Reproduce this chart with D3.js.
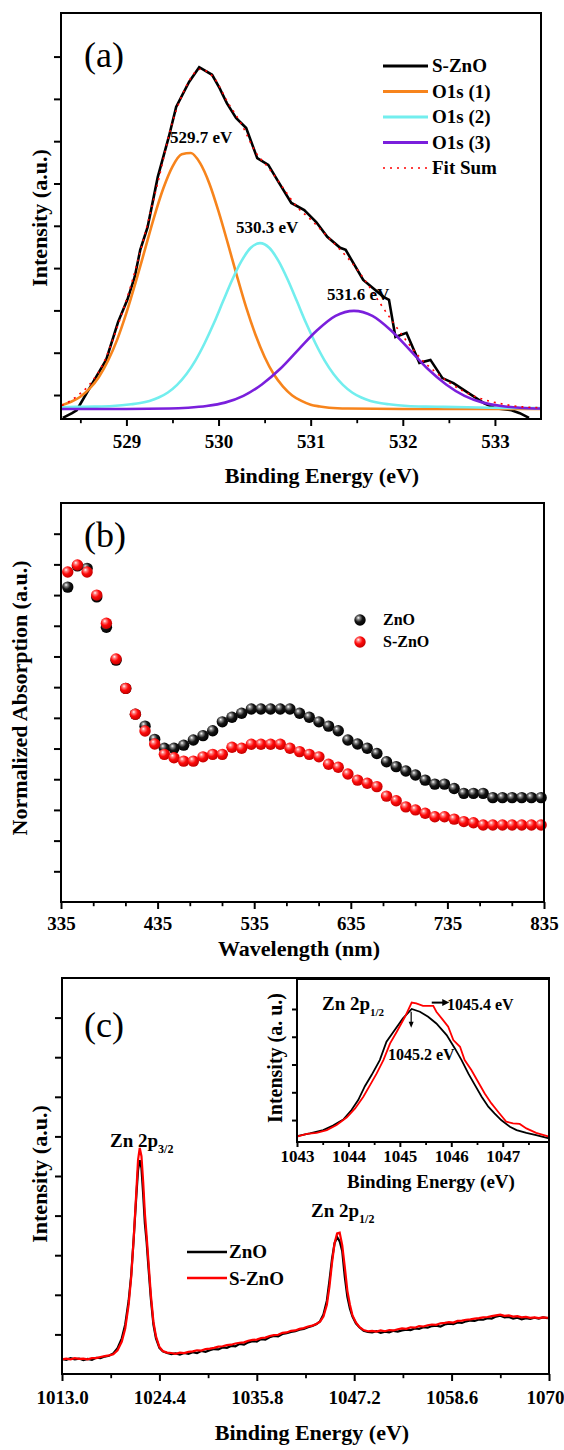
<!DOCTYPE html>
<html>
<head>
<meta charset="utf-8">
<script src="https://cdn.jsdelivr.net/npm/d3@7"></script>
<style>
body { margin: 0; background: #fff; }
svg text { font-family: "Liberation Serif", "Times New Roman", serif; }
</style>
</head>
<body>
<svg id="fig" width="564" height="1450"></svg>
<script>
// ---------- panel (a): O1s XPS fit ----------
var aTicks = [529, 530, 531, 532, 533];
var aMinor = [528.5, 529.5, 530.5, 531.5, 532.5];
var aYTicks = [0, 1, 2, 3, 4, 5, 6, 7, 8];

var sznoE = [528.31,528.41,528.46,528.64,528.78,528.91,529.01,529.09,529.15,529.23,529.34,529.46,529.54,529.68,529.79,529.93,530.01,530.09,530.19,530.30,530.42,530.54,530.65,530.79,530.93,531.06,531.18,531.32,531.38,531.57,531.79,531.85,531.92,532.04,532.18,532.30,532.43,532.55,532.71,532.88,533.00,533.18,533.27,533.37];
var sznoI = [-0.54,-0.43,-0.36,0.31,0.83,1.73,2.25,2.79,3.43,3.97,5.15,6.10,6.81,7.40,7.75,7.57,7.26,6.90,6.55,6.31,5.60,5.44,5.04,4.54,4.37,4.09,3.74,3.48,3.43,2.72,2.32,2.25,1.37,1.47,0.76,0.83,0.40,0.28,0.05,-0.19,-0.31,-0.36,-0.43,-0.54];

var fitE = [528.30,528.45,528.60,528.75,528.90,529.05,529.20,529.35,529.50,529.65,529.80,529.95,530.10,530.25,530.40,530.55,530.70,530.85,531.00,531.15,531.30,531.45,531.60,531.75,531.90,532.05,532.20,532.35,532.50,532.65,532.80,532.95,533.10,533.30,533.50];
var fitI = [-0.25,-0.05,0.25,0.75,1.60,2.60,3.80,5.10,6.45,7.30,7.70,7.50,6.92,6.40,5.75,5.35,4.90,4.45,4.15,3.82,3.48,3.12,2.68,2.18,1.70,1.25,0.85,0.55,0.30,0.10,-0.05,-0.15,-0.22,-0.28,-0.30];

var o1E = [528.3,528.4,528.5,528.6,528.7,528.8,528.9,529.0,529.1,529.2,529.3,529.4,529.5,529.6,529.7,529.8,529.9,530.0,530.1,530.2,530.3,530.4,530.5,530.6,530.7,530.8,530.9,531.0,531.1,531.2,531.4,532.0,533.5];
var o1I = [-0.24,-0.16,-0.04,0.15,0.42,0.81,1.31,1.94,2.66,3.43,4.20,4.88,5.40,5.69,5.72,5.48,5.00,4.34,3.59,2.81,2.07,1.43,0.90,0.49,0.20,-0.01,-0.14,-0.23,-0.27,-0.30,-0.32,-0.33,-0.33];

var o2E = [528.3,528.45,528.65,528.85,529.05,529.15,529.25,529.35,529.45,529.55,529.65,529.75,529.85,529.95,530.05,530.15,530.25,530.35,530.45,530.55,530.65,530.75,530.85,530.95,531.05,531.15,531.25,531.35,531.45,531.55,531.65,531.75,531.85,532.05,532.25,532.45,532.95,533.5];
var o2I = [-0.29,-0.28,-0.275,-0.26,-0.22,-0.19,-0.14,-0.06,0.06,0.24,0.49,0.82,1.23,1.70,2.22,2.73,3.17,3.48,3.59,3.48,3.17,2.73,2.22,1.70,1.23,0.82,0.49,0.24,0.06,-0.06,-0.14,-0.19,-0.22,-0.26,-0.275,-0.28,-0.30,-0.31];

var o3E = [528.3,529.0,529.47,529.67,529.87,530.07,530.27,530.47,530.67,530.87,531.07,531.27,531.47,531.67,531.87,532.07,532.27,532.47,532.67,532.87,533.07,533.27,533.5];
var o3I = [-0.33,-0.33,-0.32,-0.30,-0.26,-0.18,-0.02,0.25,0.62,1.08,1.53,1.87,1.99,1.87,1.53,1.08,0.62,0.25,-0.02,-0.18,-0.26,-0.30,-0.32];

var aLegend = ["S-ZnO", "O1s (1)", "O1s (2)", "O1s (3)", "Fit Sum"];
var aColors = ["#000000", "#f7841c", "#72eeee", "#7a1fdc", "#ff0000"];

// ---------- panel (b): absorption ----------
var bTicks = [335, 435, 535, 635, 735, 835];
var bMinor = [368.33, 401.67, 468.33, 501.67, 568.33, 601.67, 668.33, 701.67, 768.33, 801.67];
var bYTicks = [0.1,0.2,0.3,0.4,0.5,0.6,0.7,0.8,0.9,1.0,1.1,1.2];
var wavelength = [342,352,362,372,382,392,402,412,422,432,442,452,462,472,482,492,502,512,522,532,542,552,562,572,582,592,602,612,622,632,642,652,662,672,682,692,702,712,722,732,742,752,762,772,782,792,802,812,822,832];
var absZnO = [1.026,1.095,1.087,0.994,0.895,0.788,0.696,0.612,0.573,0.530,0.501,0.501,0.511,0.528,0.542,0.558,0.587,0.602,0.615,0.629,0.629,0.629,0.629,0.629,0.615,0.602,0.587,0.573,0.558,0.528,0.515,0.501,0.484,0.457,0.441,0.427,0.414,0.397,0.384,0.384,0.370,0.354,0.354,0.354,0.340,0.340,0.340,0.340,0.340,0.340];
var absSZnO = [1.075,1.098,1.075,1.000,0.908,0.792,0.696,0.612,0.557,0.515,0.481,0.470,0.459,0.459,0.473,0.481,0.481,0.504,0.501,0.514,0.514,0.514,0.514,0.501,0.490,0.481,0.473,0.449,0.439,0.417,0.397,0.387,0.376,0.345,0.330,0.310,0.300,0.289,0.278,0.278,0.270,0.262,0.258,0.251,0.251,0.251,0.251,0.251,0.251,0.251];

// ---------- panel (c): Zn 2p XPS ----------
var cTicks = [1013.0, 1024.4, 1035.8, 1047.2, 1058.6, 1070];
var cTickLabels = ["1013.0", "1024.4", "1035.8", "1047.2", "1058.6", "1070"];
var cMinor = [1018.7, 1030.1, 1041.5, 1052.9, 1064.3];
var cYTicks = [1,2,3,4,5,6,7,8,9];
var cE = [1013.0,1013.5,1014.0,1014.5,1015.0,1015.5,1016.0,1016.5,1017.0,1017.5,
  1018.0,1018.5,1019.0,1019.5,1020.0,1020.4,1020.8,1021.1,1021.4,1021.7,
  1021.9,1022.1,1022.3,1022.5,1022.7,1022.9,1023.1,1023.4,1023.7,1024.0,
  1024.4,1024.8,1025.3,1025.8,1026.3,1026.8,1027.3,1027.8,1028.3,1028.8,
  1029.3,1029.8,1030.3,1030.8,1031.3,1031.8,1032.3,1032.8,1033.3,1033.8,
  1034.3,1034.8,1035.3,1035.8,1036.3,1036.8,1037.3,1037.8,1038.3,1038.8,
  1039.3,1039.8,1040.3,1040.8,1041.3,1041.8,1042.3,1042.8,1043.2,1043.6,
  1044.0,1044.3,1044.6,1044.9,1045.2,1045.5,1045.8,1046.1,1046.4,1046.7,
  1047.0,1047.4,1047.8,1048.3,1048.8,1049.3,1049.8,1050.3,1050.8,1051.3,
  1051.8,1052.3,1052.8,1053.3,1053.8,1054.3,1054.8,1055.3,1055.8,1056.3,
  1056.8,1057.3,1057.8,1058.3,1058.8,1059.3,1059.8,1060.3,1060.8,1061.3,
  1061.8,1062.3,1062.8,1063.3,1063.8,1064.3,1064.8,1065.3,1065.8,1066.3,
  1066.8,1067.3,1067.8,1068.3,1068.8,1069.3,1069.8,1070.0];
var cZnO = [0.38,0.36,0.40,0.37,0.39,0.35,0.38,0.36,0.41,0.40,
  0.44,0.46,0.52,0.65,0.90,1.25,1.85,2.50,3.45,4.50,
  5.15,5.40,5.20,4.55,3.80,3.35,2.75,1.90,1.25,0.90,
  0.66,0.57,0.53,0.50,0.52,0.49,0.53,0.51,0.55,0.53,
  0.58,0.56,0.60,0.63,0.62,0.67,0.66,0.71,0.70,0.76,
  0.74,0.80,0.83,0.82,0.88,0.87,0.93,0.96,0.95,1.01,
  1.03,1.06,1.08,1.12,1.14,1.18,1.21,1.26,1.33,1.50,
  1.85,2.35,2.90,3.30,3.46,3.35,3.10,2.45,1.95,1.65,
  1.45,1.28,1.18,1.09,1.06,1.05,1.08,1.04,1.07,1.05,
  1.09,1.07,1.10,1.12,1.11,1.15,1.14,1.18,1.17,1.21,
  1.22,1.20,1.25,1.27,1.26,1.30,1.29,1.33,1.35,1.34,
  1.38,1.37,1.41,1.40,1.45,1.47,1.43,1.44,1.40,1.42,
  1.38,1.41,1.39,1.42,1.40,1.43,1.41,1.42];
var cSZnO = [0.37,0.39,0.37,0.40,0.38,0.39,0.37,0.40,0.40,0.43,
  0.45,0.47,0.50,0.60,0.82,1.15,1.75,2.45,3.45,4.60,
  5.40,5.71,5.50,4.85,4.05,3.50,2.90,2.00,1.32,0.95,
  0.68,0.58,0.54,0.53,0.51,0.54,0.53,0.56,0.57,0.60,
  0.59,0.63,0.64,0.66,0.69,0.70,0.73,0.74,0.77,0.79,
  0.80,0.84,0.86,0.87,0.91,0.92,0.96,0.98,0.99,1.04,
  1.05,1.09,1.10,1.14,1.16,1.20,1.22,1.27,1.32,1.45,
  1.75,2.20,2.80,3.30,3.55,3.57,3.25,2.70,2.10,1.75,
  1.48,1.30,1.19,1.11,1.08,1.09,1.07,1.10,1.08,1.11,
  1.10,1.13,1.15,1.14,1.18,1.17,1.21,1.20,1.23,1.25,
  1.24,1.28,1.29,1.31,1.30,1.34,1.35,1.37,1.38,1.40,
  1.41,1.43,1.44,1.46,1.48,1.50,1.47,1.48,1.45,1.46,
  1.43,1.44,1.42,1.43,1.41,1.43,1.42,1.42];

// inset of (c)
var iTicks = [1043, 1044, 1045, 1046, 1047];
var iMinor = [1043.5, 1044.5, 1045.5, 1046.5, 1047.5];
var iYTicks = [0, 1, 2, 3, 4];
var iZnoE = [1043.0,1043.25,1043.51,1043.70,1043.90,1044.06,1044.19,1044.32,1044.45,1044.61,1044.74,1044.90,1045.06,1045.23,1045.39,1045.55,1045.71,1045.91,1046.07,1046.20,1046.33,1046.46,1046.59,1046.72,1046.84,1046.97,1047.14,1047.27,1047.46,1047.65,1047.90];
var iZnoI = [-0.58,-0.48,-0.36,-0.20,0.02,0.36,0.72,1.22,1.62,2.16,2.82,3.24,3.66,4.00,3.90,3.72,3.48,3.06,2.58,2.16,1.68,1.26,0.84,0.48,0.24,0.00,-0.24,-0.36,-0.46,-0.54,-0.66];
var iSznoE = [1043.0,1043.19,1043.38,1043.58,1043.77,1043.97,1044.13,1044.29,1044.42,1044.55,1044.68,1044.81,1044.94,1045.10,1045.23,1045.32,1045.45,1045.65,1045.71,1045.84,1045.94,1046.04,1046.17,1046.26,1046.39,1046.52,1046.65,1046.78,1046.91,1047.07,1047.20,1047.33,1047.46,1047.65,1047.90];
var iSznoI = [-0.60,-0.50,-0.46,-0.36,-0.18,0.10,0.42,0.84,1.26,1.68,2.16,2.76,3.18,3.72,4.23,4.20,4.11,4.11,3.90,3.60,3.36,2.88,2.64,2.16,1.80,1.38,0.96,0.60,0.30,-0.06,-0.12,-0.14,-0.30,-0.46,-0.60];

var svg = d3.select("#fig");
svg.append("rect").attr("width", 564).attr("height", 1450).attr("fill", "#fff");

function zip(xs, ys) {
    return xs.map((x, i) => [x, ys[i]]);
}

function label(g, x, y, str, size, bold, anchor) {
    return g.append("text")
        .attr("x", x).attr("y", y)
        .attr("font-size", size)
        .attr("font-weight", bold ? "bold" : "normal")
        .attr("text-anchor", anchor || "start")
        .text(str);
}

function subLabel(g, x, y, main, sub, size, subSize) {
    var t = g.append("text").attr("x", x).attr("y", y)
        .attr("font-weight", "bold").attr("font-size", size);
    t.append("tspan").text(main);
    t.append("tspan").attr("dy", size * 0.3).attr("font-size", subSize).text(sub);
}

function yTitle(g, x, y, str, size) {
    g.append("text")
        .attr("transform", `translate(${x},${y}) rotate(-90)`)
        .attr("font-size", size).attr("font-weight", "bold")
        .attr("text-anchor", "middle").text(str);
}

function frame(g, x, y) {
    g.append("rect")
        .attr("x", x.range()[0]).attr("y", y.range()[1])
        .attr("width", x.range()[1] - x.range()[0])
        .attr("height", y.range()[0] - y.range()[1])
        .attr("fill", "none").attr("stroke", "#000").attr("stroke-width", 2);
}

// bottom axis with minor ticks, labels placed at labelY below the axis
function xAxis(g, x, y0, major, minor, fmt, labelY, fs, len) {
    var mn = g.append("g").attr("transform", `translate(0,${y0})`)
        .call(d3.axisBottom(x).tickValues(minor).tickSize(len * 0.6).tickFormat(""));
    mn.select(".domain").remove();
    mn.selectAll("line").attr("stroke-width", 1.8);
    var mj = g.append("g").attr("transform", `translate(0,${y0})`)
        .call(d3.axisBottom(x).tickValues(major).tickSize(len).tickFormat(fmt));
    mj.select(".domain").remove();
    mj.selectAll("line").attr("stroke-width", 2);
    mj.attr("font-family", null).attr("font-size", fs).attr("font-weight", "bold");
    mj.selectAll("text").attr("y", labelY).attr("dy", null).attr("fill", "#000");
    return mj;
}

function yAxis(g, y, x0, ticks, len) {
    var ax = g.append("g").attr("transform", `translate(${x0},0)`)
        .call(d3.axisLeft(y).tickValues(ticks).tickSize(len).tickFormat(""));
    ax.select(".domain").remove();
    ax.selectAll("line").attr("stroke-width", 2);
}

// ================= (a) =================
var gA = svg.append("g");
var xA = d3.scaleLinear().domain([528.29, 533.5]).range([61, 541]);
var yA = d3.scaleLinear().domain([-0.567, 9.03]).range([419, 13]);
var lineA = d3.line().x(d => xA(d[0])).y(d => yA(d[1]));
var smoothA = d3.line().curve(d3.curveMonotoneX).x(d => xA(d[0])).y(d => yA(d[1]));

gA.append("path").datum(zip(sznoE, sznoI)).attr("d", lineA)
    .attr("fill", "none").attr("stroke", aColors[0]).attr("stroke-width", 2.6);
gA.append("path").datum(zip(o1E, o1I)).attr("d", smoothA)
    .attr("fill", "none").attr("stroke", aColors[1]).attr("stroke-width", 2.6);
gA.append("path").datum(zip(o2E, o2I)).attr("d", smoothA)
    .attr("fill", "none").attr("stroke", aColors[2]).attr("stroke-width", 2.6);
gA.append("path").datum(zip(o3E, o3I)).attr("d", smoothA)
    .attr("fill", "none").attr("stroke", aColors[3]).attr("stroke-width", 2.6);
gA.append("path").datum(zip(fitE, fitI)).attr("d", smoothA)
    .attr("fill", "none").attr("stroke", aColors[4]).attr("stroke-width", 1.6)
    .attr("stroke-dasharray", "2,5");

frame(gA, xA, yA);
xAxis(gA, xA, 419, aTicks, aMinor, d3.format("d"), 29, 19, 7);
yAxis(gA, yA, 61, aYTicks, 7);

label(gA, 84, 67, "(a)", 36, false);
label(gA, 170, 143, "529.7 eV", 17, true);
label(gA, 236, 233, "530.3 eV", 17, true);
label(gA, 327, 300, "531.6 eV", 17, true);
label(gA, 322, 483, "Binding Energy (eV)", 22, true, "middle");
yTitle(gA, 47, 218, "Intensity (a.u.)", 22);

aLegend.forEach(function(name, i) {
    var ly = 66 + i * 25.5;
    var ln = gA.append("line").attr("x1", 383).attr("x2", 428).attr("y1", ly).attr("y2", ly)
        .attr("stroke", aColors[i]).attr("stroke-width", i == 4 ? 1.6 : 2.8);
    if (i == 4) ln.attr("stroke-dasharray", "2,5");
    label(gA, 432, ly + 6, name, 19, true);
});

// ================= (b) =================
var gB = svg.append("g");
var xB = d3.scaleLinear().domain([335, 835]).range([61, 544]);
var yB = d3.scaleLinear().domain([0, 1.3]).range([902, 503]);

var defs = svg.append("defs");
function ballGrad(id, c0, c1, c2, c3) {
    var rg = defs.append("radialGradient").attr("id", id)
        .attr("cx", "40%").attr("cy", "38%").attr("r", "62%")
        .attr("fx", "35%").attr("fy", "30%");
    rg.append("stop").attr("offset", "0%").attr("stop-color", c0);
    rg.append("stop").attr("offset", "22%").attr("stop-color", c1);
    rg.append("stop").attr("offset", "55%").attr("stop-color", c2);
    rg.append("stop").attr("offset", "100%").attr("stop-color", c3);
}
ballGrad("ballK", "#ffffff", "#8a8a8a", "#151515", "#000000");
ballGrad("ballR", "#ffffff", "#ff8080", "#ff0a0a", "#c40000");

gB.selectAll("circle.zno").data(zip(wavelength, absZnO)).enter()
    .append("circle").attr("class", "zno")
    .attr("cx", d => xB(d[0])).attr("cy", d => yB(d[1])).attr("r", 5.7)
    .attr("fill", "url(#ballK)");
gB.selectAll("circle.szno").data(zip(wavelength, absSZnO)).enter()
    .append("circle").attr("class", "szno")
    .attr("cx", d => xB(d[0])).attr("cy", d => yB(d[1])).attr("r", 5.7)
    .attr("fill", "url(#ballR)");

frame(gB, xB, yB);
xAxis(gB, xB, 902, bTicks, bMinor, d3.format("d"), 28, 19, 7);
yAxis(gB, yB, 61, bYTicks, 7);

label(gB, 84, 547, "(b)", 36, false);
gB.append("circle").attr("cx", 360).attr("cy", 620).attr("r", 5.7).attr("fill", "url(#ballK)");
gB.append("circle").attr("cx", 360).attr("cy", 642).attr("r", 5.7).attr("fill", "url(#ballR)");
label(gB, 383, 625, "ZnO", 16, true);
label(gB, 383, 647, "S-ZnO", 16, true);
label(gB, 299, 956, "Wavelength (nm)", 22, true, "middle");
yTitle(gB, 27, 698, "Normalized Absorption (a.u.)", 22);

// ================= (c) =================
var gC = svg.append("g");
var xC = d3.scaleLinear().domain([1013, 1070]).range([62, 549]);
var yC = d3.scaleLinear().domain([0, 10]).range([1374, 978]);
var lineC = d3.line().x(d => xC(d[0])).y(d => yC(d[1]));

gC.append("path").datum(zip(cE, cZnO)).attr("d", lineC)
    .attr("fill", "none").attr("stroke", "#000").attr("stroke-width", 2.2);
gC.append("path").datum(zip(cE, cSZnO)).attr("d", lineC)
    .attr("fill", "none").attr("stroke", "#ff0000").attr("stroke-width", 2.2);

frame(gC, xC, yC);
var cAx = xAxis(gC, xC, 1374, cTicks, cMinor, (d, i) => cTickLabels[i], 30, 19, 7);
// last label sits at the page edge, pull it in a little as in the figure
cAx.selectAll("text").filter((d, i) => i == cTicks.length - 1).attr("dx", -4);
yAxis(gC, yC, 62, cYTicks, 7);

label(gC, 84, 1037, "(c)", 36, false);
subLabel(gC, 110, 1147, "Zn 2p", "3/2", 19, 12);
subLabel(gC, 311, 1217, "Zn 2p", "1/2", 19, 12);
gC.append("line").attr("x1", 187).attr("x2", 227).attr("y1", 1252).attr("y2", 1252)
    .attr("stroke", "#000").attr("stroke-width", 2.4);
gC.append("line").attr("x1", 187).attr("x2", 227).attr("y1", 1278).attr("y2", 1278)
    .attr("stroke", "#ff0000").attr("stroke-width", 2.4);
label(gC, 229, 1258, "ZnO", 19, true);
label(gC, 229, 1285, "S-ZnO", 19, true);
label(gC, 312, 1440, "Binding Energy (eV)", 22, true, "middle");
yTitle(gC, 47, 1174, "Intensity (a.u.)", 22);

// inset
var gI = svg.append("g");
var xI = d3.scaleLinear().domain([1043, 1047.9]).range([297, 549]);
var yI = d3.scaleLinear().domain([-0.79, 5.08]).range([1142, 979]);
var lineI = d3.line().x(d => xI(d[0])).y(d => yI(d[1]));
gI.append("rect").attr("x", 297).attr("y", 979).attr("width", 252).attr("height", 163).attr("fill", "#fff");
gI.append("path").datum(zip(iZnoE, iZnoI)).attr("d", lineI)
    .attr("fill", "none").attr("stroke", "#000").attr("stroke-width", 1.8);
gI.append("path").datum(zip(iSznoE, iSznoI)).attr("d", lineI)
    .attr("fill", "none").attr("stroke", "#ff0000").attr("stroke-width", 1.8);
frame(gI, xI, yI);
xAxis(gI, xI, 1142, iTicks, iMinor, d3.format("d"), 20, 17, 5);
yAxis(gI, yI, 297, iYTicks, 5);

subLabel(gI, 322, 1010, "Zn 2p", "1/2", 19, 11);
// arrows pointing at the two peak positions
var hx0 = xI(1045.62), hx1 = xI(1045.96), hy = yI(4.23);
gI.append("line").attr("x1", hx0).attr("x2", hx1 - 6).attr("y1", hy).attr("y2", hy)
    .attr("stroke", "#000").attr("stroke-width", 2);
gI.append("path").attr("d", `M${hx1 - 7},${hy - 3.5}L${hx1},${hy}L${hx1 - 7},${hy + 3.5}Z`).attr("fill", "#000");
var vx = xI(1045.22), vy0 = yI(3.9), vy1 = yI(3.32);
gI.append("line").attr("x1", vx).attr("x2", vx).attr("y1", vy0).attr("y2", vy1 - 5)
    .attr("stroke", "#000").attr("stroke-width", 1.2);
gI.append("path").attr("d", `M${vx - 2.5},${vy1 - 6}L${vx},${vy1}L${vx + 2.5},${vy1 - 6}Z`).attr("fill", "#000");
label(gI, 447, 1010, "1045.4 eV", 16, true);
label(gI, 388, 1060, "1045.2 eV", 16, true);
label(gI, 431, 1188, "Binding Energy (eV)", 19, true, "middle");
yTitle(gI, 282, 1058, "Intensity (a. u.)", 20);
</script>
</body>
</html>
